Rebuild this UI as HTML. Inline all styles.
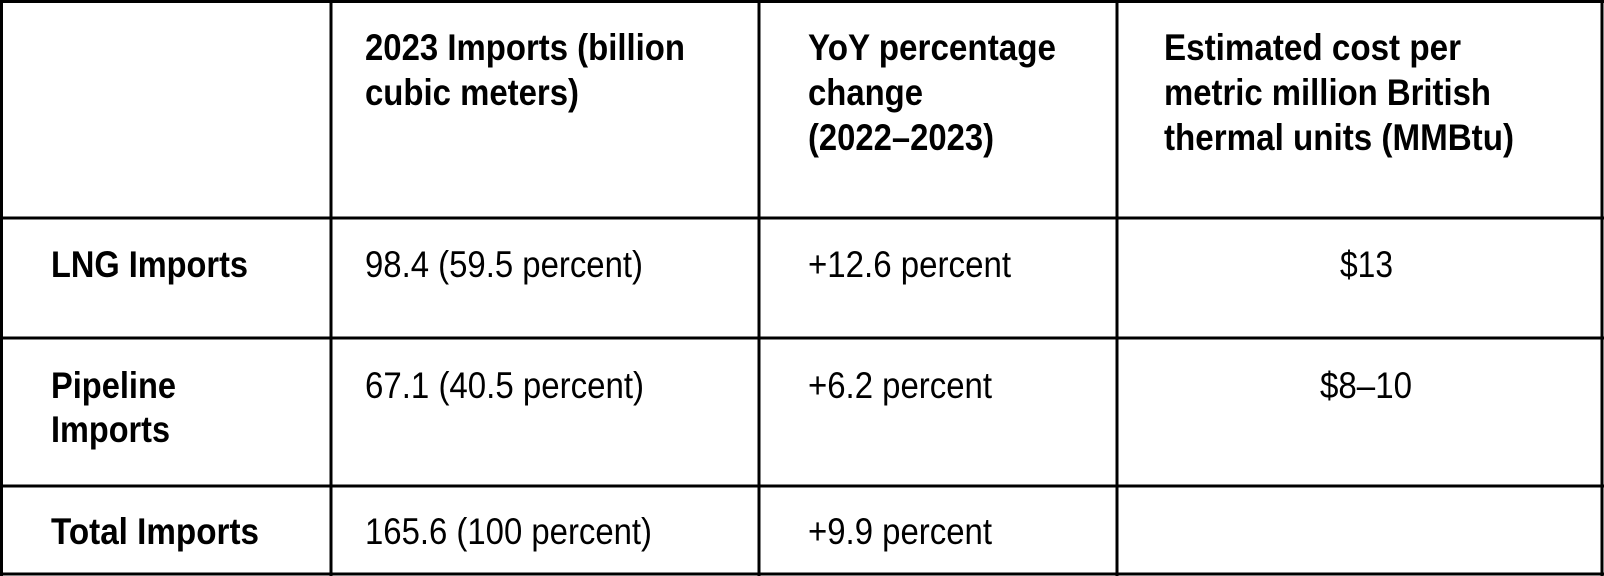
<!DOCTYPE html>
<html><head><meta charset="utf-8"><style>
html,body{margin:0;padding:0;background:#fff;width:1604px;height:576px;overflow:hidden}
text{font-family:"Liberation Sans",Arial,sans-serif;font-size:37px;fill:#000}
.b{font-weight:bold}
</style></head><body>
<svg width="1604" height="576" xmlns="http://www.w3.org/2000/svg">
<g stroke="#000" stroke-width="3">
<line x1="1.5" y1="0" x2="1.5" y2="576"/>
<line x1="331" y1="0" x2="331" y2="576"/>
<line x1="759" y1="0" x2="759" y2="576"/>
<line x1="1117" y1="0" x2="1117" y2="576"/>
<line x1="1602" y1="0" x2="1602" y2="576"/>
<line x1="0" y1="1.5" x2="1604" y2="1.5"/>
<line x1="0" y1="218" x2="1604" y2="218"/>
<line x1="0" y1="338" x2="1604" y2="338"/>
<line x1="0" y1="486" x2="1604" y2="486"/>
<line x1="0" y1="574" x2="1604" y2="574"/>
</g>
<g class="b">
<text class="b" x="365" y="60" textLength="320" lengthAdjust="spacingAndGlyphs">2023 Imports (billion</text>
<text class="b" x="365" y="105" textLength="214" lengthAdjust="spacingAndGlyphs">cubic meters)</text>
<text class="b" x="808" y="60" textLength="248" lengthAdjust="spacingAndGlyphs">YoY percentage</text>
<text class="b" x="808" y="105" textLength="115" lengthAdjust="spacingAndGlyphs">change</text>
<text class="b" x="808" y="150" textLength="186" lengthAdjust="spacingAndGlyphs">(2022–2023)</text>
<text class="b" x="1164" y="60" textLength="297" lengthAdjust="spacingAndGlyphs">Estimated cost per</text>
<text class="b" x="1164" y="105" textLength="327" lengthAdjust="spacingAndGlyphs">metric million British</text>
<text class="b" x="1164" y="150" textLength="350" lengthAdjust="spacingAndGlyphs">thermal units (MMBtu)</text>
<text class="b" x="51" y="277" textLength="197" lengthAdjust="spacingAndGlyphs">LNG Imports</text>
<text class="b" x="51" y="398" textLength="125" lengthAdjust="spacingAndGlyphs">Pipeline</text>
<text class="b" x="51" y="442" textLength="119" lengthAdjust="spacingAndGlyphs">Imports</text>
<text class="b" x="51" y="544" textLength="208" lengthAdjust="spacingAndGlyphs">Total Imports</text>
</g>
<text x="365" y="277" textLength="278" lengthAdjust="spacingAndGlyphs">98.4 (59.5 percent)</text>
<text x="365" y="398" textLength="279" lengthAdjust="spacingAndGlyphs">67.1 (40.5 percent)</text>
<text x="365" y="544" textLength="287" lengthAdjust="spacingAndGlyphs">165.6 (100 percent)</text>
<text x="808" y="277" textLength="203" lengthAdjust="spacingAndGlyphs">+12.6 percent</text>
<text x="808" y="398" textLength="184" lengthAdjust="spacingAndGlyphs">+6.2 percent</text>
<text x="808" y="544" textLength="184" lengthAdjust="spacingAndGlyphs">+9.9 percent</text>
<text x="1340" y="277" textLength="53" lengthAdjust="spacingAndGlyphs">$13</text>
<text x="1320" y="398" textLength="92" lengthAdjust="spacingAndGlyphs">$8–10</text>
</svg>
</body></html>
